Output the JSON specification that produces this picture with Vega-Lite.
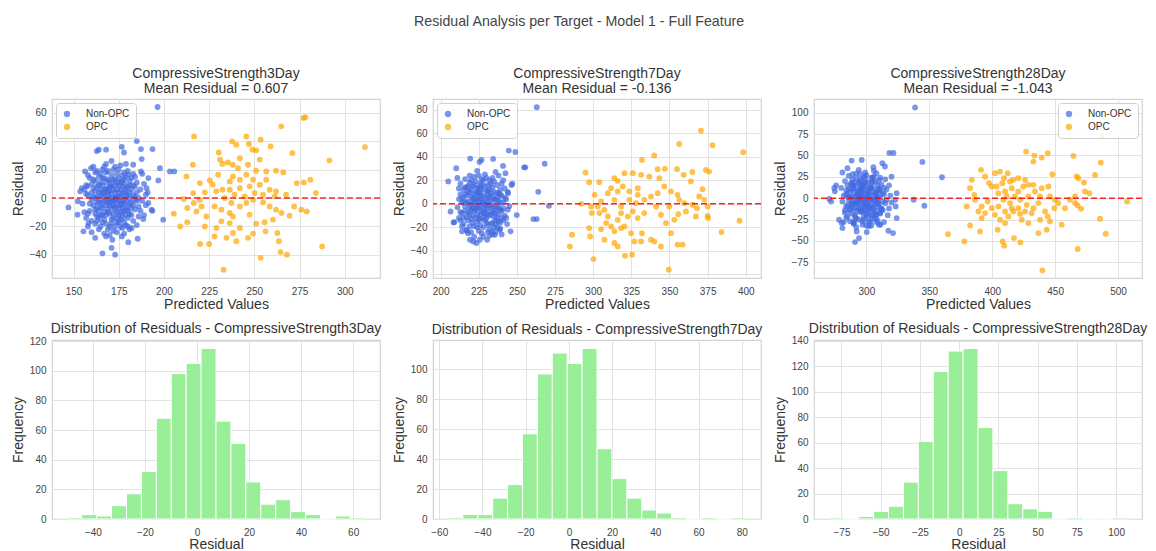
{
"$schema": "https://vega.github.io/schema/vega-lite/v6.json",
"padding": {"left": 10, "top": 14, "right": 10, "bottom": 0},
"title": {"text": "Residual Analysis per Target - Model 1 - Full Feature", "fontSize": 14.2, "color": "#444", "fontWeight": "normal", "anchor": "middle", "offset": 37.5},
"datasets": {
"n3": [
{"x":196.5,"y":64},{"x":185,"y":40},{"x":176.7,"y":36},{"x":168,"y":34},{"x":164,"y":34},{"x":162.9,"y":33},{"x":193.7,"y":34.4},{"x":187.7,"y":27.4},{"x":187.3,"y":34.4},{"x":177.9,"y":32},{"x":197.8,"y":21},{"x":203.3,"y":18.7},{"x":205.7,"y":18.7},{"x":196.9,"y":12.4},{"x":199.6,"y":-15.2},{"x":193.2,"y":-8.2},{"x":193.6,"y":-9},{"x":147.2,"y":-6.6},{"x":152.4,"y":-2.3},{"x":152.2,"y":-11.7},{"x":153.7,"y":4.7},{"x":155.5,"y":-23.4},{"x":158.3,"y":-17.6},{"x":162,"y":-28},{"x":166,"y":-39},{"x":173,"y":-39.8},{"x":171,"y":-35},{"x":171.5,"y":-29.3},{"x":180.3,"y":-31},{"x":185.5,"y":-28.6},{"x":182.2,"y":-21},{"x":176.7,"y":-27},{"x":168,"y":-27},{"x":188.6,"y":-14.8},{"x":191.4,"y":-3.5},{"x":190,"y":2.3},{"x":190.4,"y":7},{"x":191.4,"y":14},{"x":187.3,"y":18.7},{"x":183,"y":23.4},{"x":180.3,"y":16.4},{"x":159.7,"y":21},{"x":156.4,"y":18.7},{"x":154.6,"y":7},{"x":157.7,"y":8.2},
{"x":158,"y":2},{"x":161,"y":-5},{"x":163,"y":8},{"x":165,"y":-12},{"x":166,"y":3},{"x":167,"y":-2},{"x":168,"y":11},{"x":169,"y":-8},{"x":170,"y":5},{"x":171,"y":-15},{"x":172,"y":0},{"x":173,"y":9},{"x":174,"y":-4},{"x":175,"y":14},{"x":176,"y":-10},{"x":177,"y":3},{"x":178,"y":-1},{"x":179,"y":7},{"x":180,"y":-6},{"x":181,"y":12},
{"x":159,"y":-9},{"x":160,"y":10},{"x":162,"y":-18},{"x":164,"y":15},{"x":166,"y":-7},{"x":167,"y":6},{"x":169,"y":19},{"x":170,"y":-3},{"x":171,"y":8},{"x":172,"y":-11},{"x":173,"y":4},{"x":174,"y":17},{"x":175,"y":-7},{"x":176,"y":1},{"x":177,"y":-14},{"x":178,"y":10},{"x":179,"y":-19},{"x":180,"y":2},{"x":182,"y":-3},{"x":183,"y":9},
{"x":157,"y":-14},{"x":160,"y":-1},{"x":161,"y":13},{"x":163,"y":-3},{"x":164,"y":-9},{"x":165,"y":6},{"x":166,"y":20},{"x":168,"y":-5},{"x":169,"y":2},{"x":170,"y":-20},{"x":171,"y":16},{"x":172,"y":6},{"x":173,"y":-6},{"x":174,"y":-17},{"x":175,"y":4},{"x":176,"y":11},{"x":177,"y":-4},{"x":178,"y":-9},{"x":179,"y":1},{"x":181,"y":-11},
{"x":156,"y":6},{"x":158,"y":-20},{"x":159,"y":14},{"x":162,"y":0},{"x":163,"y":-13},{"x":164,"y":4},{"x":165,"y":-1},{"x":166,"y":-17},{"x":167,"y":14},{"x":168,"y":-12},{"x":169,"y":7},{"x":170,"y":12},{"x":171,"y":-7},{"x":172,"y":-2},{"x":173,"y":22},{"x":174,"y":1},{"x":175,"y":-12},{"x":176,"y":-20},{"x":177,"y":8},{"x":178,"y":18},
{"x":184,"y":-8},{"x":185,"y":4},{"x":186,"y":-13},{"x":187,"y":6},{"x":188,"y":-2},{"x":189,"y":10},{"x":184,"y":15},{"x":185,"y":-19},{"x":186,"y":0},{"x":183,"y":-16},{"x":182,"y":6},{"x":181,"y":-22},{"x":180,"y":19},{"x":182,"y":14},{"x":184,"y":-1},{"x":187,"y":-9},{"x":188,"y":17},{"x":190,"y":-5},{"x":189,"y":-12},{"x":191,"y":4},
{"x":155,"y":-4},{"x":156,"y":-10},{"x":157,"y":9},{"x":158,"y":16},{"x":160,"y":-24},{"x":161,"y":22},{"x":162,"y":-11},{"x":163,"y":19},{"x":164,"y":-22},{"x":165,"y":11},{"x":167,"y":-25},{"x":168,"y":24},{"x":170,"y":-11},{"x":171,"y":26},{"x":172,"y":-23},{"x":174,"y":-24},{"x":176,"y":23},{"x":178,"y":-25},{"x":179,"y":24},{"x":180,"y":-14},
{"x":161,"y":1},{"x":162,"y":5},{"x":163,"y":-7},{"x":164,"y":-3},{"x":165,"y":2},{"x":166,"y":-4},{"x":167,"y":1},{"x":168,"y":-1},{"x":169,"y":-3},{"x":170,"y":0},{"x":171,"y":3},{"x":172,"y":-5},{"x":173,"y":-1},{"x":174,"y":6},{"x":175,"y":-2},{"x":176,"y":-5},{"x":177,"y":12},{"x":178,"y":4},{"x":179,"y":-12},{"x":180,"y":8},
{"x":165,"y":-20},{"x":167,"y":-10},{"x":169,"y":13},{"x":171,"y":-18},{"x":173,"y":13},{"x":175,"y":9},{"x":177,"y":-21},{"x":179,"y":15},{"x":181,"y":0},{"x":183,"y":2},{"x":166,"y":9},{"x":168,"y":18},{"x":170,"y":-26},{"x":172,"y":20},{"x":174,"y":-14},{"x":176,"y":-15},{"x":178,"y":-17},{"x":180,"y":-20},{"x":182,"y":-7},{"x":184,"y":8},
{"x":163,"y":1},{"x":165,"y":-6},{"x":167,"y":4},{"x":169,"y":-10},{"x":171,"y":10},{"x":173,"y":-8},{"x":175,"y":1},{"x":177,"y":-7},{"x":179,"y":5},{"x":181,"y":4},{"x":162,"y":-8},{"x":164,"y":9},{"x":166,"y":-12},{"x":168,"y":6},{"x":170,"y":-5},{"x":172,"y":13},{"x":174,"y":-10},{"x":176,"y":6},{"x":178,"y":-4},{"x":180,"y":-9},
{"x":161,"y":7},{"x":163,"y":-16},{"x":165,"y":17},{"x":167,"y":-15},{"x":169,"y":4},{"x":171,"y":-2},{"x":173,"y":0},{"x":175,"y":-17},{"x":177,"y":16},{"x":179,"y":-8},{"x":160,"y":4},{"x":162,"y":12},{"x":164,"y":-14},{"x":166,"y":14},{"x":168,"y":-18},{"x":170,"y":8},{"x":172,"y":-14},{"x":174,"y":11},{"x":176,"y":-2},{"x":178,"y":13},
{"x":182,"y":-12},{"x":183,"y":-5},{"x":185,"y":11},{"x":186,"y":-6},{"x":184,"y":1},{"x":181,"y":9},{"x":183,"y":17},{"x":185,"y":-2},{"x":159,"y":-4},{"x":157,"y":3},{"x":158,"y":-11},{"x":160,"y":-16},{"x":162,"y":18},{"x":167,"y":22},{"x":169,"y":-22},{"x":173,"y":-20},{"x":175,"y":20},{"x":177,"y":-11},{"x":179,"y":-2},{"x":181,"y":-4}
],
"o3": [
{"x":216.7,"y":43.3},{"x":311.2,"y":35.8},{"x":277.2,"y":56.2},{"x":278.2,"y":56.8},{"x":264.9,"y":50.4},{"x":245.6,"y":43.3},{"x":253.5,"y":41},{"x":240,"y":37.5},{"x":271,"y":31.6},{"x":291.5,"y":26.5},{"x":230.3,"y":32},{"x":251,"y":33.5},{"x":237.7,"y":39.8},{"x":259,"y":36.3},{"x":247,"y":38},{"x":216,"y":23.4},{"x":212.5,"y":15.2},{"x":232.4,"y":24},{"x":235.3,"y":25},{"x":238,"y":23.4},{"x":241,"y":21},{"x":251,"y":19.2},{"x":256.6,"y":18.7},{"x":262,"y":19.2},{"x":266,"y":18},{"x":273.5,"y":10.5},{"x":277.4,"y":11},{"x":281,"y":12.9},{"x":284,"y":3.5},{"x":276,"y":-8.2},{"x":279,"y":-9.4},{"x":272,"y":-5.9},{"x":287.5,"y":-34},{"x":268,"y":-39.8},{"x":264.5,"y":-38},{"x":253.5,"y":-42},{"x":233,"y":-50.4},{"x":220,"y":-32.3},{"x":225,"y":-32.3},{"x":222.6,"y":-20},{"x":209,"y":-20},{"x":212.9,"y":-17},{"x":205.5,"y":-11},{"x":211,"y":-0.7},{"x":212.9,"y":-7},{"x":218,"y":-9.4},{"x":219.9,"y":-1.2},{"x":222.6,"y":4},{"x":225.4,"y":12.4},{"x":227,"y":9.4},{"x":229,"y":4.7},{"x":232.4,"y":5.9},{"x":236.4,"y":5.9},{"x":242,"y":7},{"x":247.4,"y":8.2},{"x":253,"y":9.4},{"x":258.5,"y":5.9},{"x":262,"y":4.7},{"x":228,"y":-5.9},{"x":231.8,"y":-8.2},{"x":236.4,"y":-10.5},{"x":238.2,"y":-12.9},{"x":242,"y":-5.9},{"x":245.6,"y":-3.5},{"x":249.3,"y":-1.2},{"x":254.8,"y":-3},{"x":258.5,"y":-5.9},{"x":262,"y":-8.2},{"x":265,"y":-10.5},{"x":269.5,"y":-12.4},{"x":260.3,"y":-15.2},{"x":255.7,"y":-17},{"x":251,"y":-18},{"x":247.4,"y":-11.7},{"x":242,"y":-21},{"x":238.2,"y":-24.6},{"x":234.6,"y":-28},{"x":228,"y":-27},{"x":236.4,"y":-17.6},{"x":229,"y":-21},{"x":231.8,"y":-16.4},{"x":263.6,"y":-30.4},{"x":256.2,"y":-23.4},{"x":246.5,"y":-28},{"x":249.3,"y":-25},{"x":240,"y":-30.4},{"x":262.7,"y":-24.6},{"x":237.3,"y":-3.5},{"x":233.6,"y":0},{"x":239,"y":2.3},{"x":244.7,"y":1.2},{"x":250.2,"y":3.5},{"x":254.8,"y":2.3},{"x":261.3,"y":1.2},{"x":267.6,"y":2.3},{"x":223.5,"y":-12.9},{"x":220.8,"y":-5.9},{"x":216.5,"y":-3.5},{"x":216.2,"y":3.5},{"x":219.9,"y":10.5},{"x":230,"y":16.4},{"x":238.2,"y":15.2},{"x":245.6,"y":16.4},{"x":242,"y":12.9},{"x":249.3,"y":12.9},{"x":256.6,"y":12.9},{"x":236.4,"y":11.7},{"x":246.5,"y":23.4},{"x":242,"y":28},{"x":253,"y":27},{"x":231,"y":27},{"x":249,"y":34}
],
"n7": [
{"x":263,"y":82},{"x":244.7,"y":45.2},{"x":249,"y":44},{"x":254.7,"y":31},{"x":255.5,"y":31},{"x":268.2,"y":34},{"x":264,"y":10.2},{"x":271,"y":-1.7},{"x":260.8,"y":-13},{"x":263,"y":-13},{"x":249.9,"y":-9.6},{"x":245.8,"y":-23.4},{"x":243.6,"y":-17.2},{"x":205,"y":19},{"x":206.5,"y":-6.5},{"x":208.5,"y":-15.8},{"x":210.2,"y":30.2},{"x":219.4,"y":38.4},{"x":234.4,"y":38.1},{"x":226.8,"y":37.3},{"x":225.5,"y":35.5},{"x":240.9,"y":32.2},{"x":217,"y":-22.9},{"x":219.2,"y":-30.5},{"x":221.4,"y":-32},{"x":223.5,"y":-33.3},{"x":225.7,"y":-30.5},{"x":230.5,"y":-30.5},{"x":233.8,"y":-23.4},{"x":235.5,"y":-26.3},{"x":238.8,"y":-22},{"x":214,"y":-23.4},{"x":246.4,"y":16},{"x":244.2,"y":9},{"x":242.5,"y":26},{"x":247,"y":17},{"x":209,"y":-15.5},{"x":212,"y":13},{"x":211,"y":22},
{"x":212,"y":4},{"x":214,"y":-8},{"x":215,"y":12},{"x":216,"y":-2},{"x":217,"y":7},{"x":218,"y":-14},{"x":219,"y":18},{"x":220,"y":-5},{"x":221,"y":2},{"x":222,"y":-19},{"x":223,"y":10},{"x":224,"y":-9},{"x":225,"y":24},{"x":226,"y":-1},{"x":227,"y":6},{"x":228,"y":-12},{"x":229,"y":15},{"x":230,"y":-4},{"x":231,"y":3},{"x":232,"y":-22},
{"x":233,"y":9},{"x":234,"y":-7},{"x":235,"y":19},{"x":236,"y":-2},{"x":237,"y":5},{"x":238,"y":-15},{"x":239,"y":12},{"x":240,"y":-6},{"x":241,"y":1},{"x":242,"y":-10},{"x":213,"y":17},{"x":214,"y":-19},{"x":216,"y":8},{"x":217,"y":-11},{"x":218,"y":2},{"x":219,"y":-3},{"x":220,"y":12},{"x":221,"y":-16},{"x":222,"y":23},{"x":223,"y":-1},
{"x":224,"y":4},{"x":225,"y":-13},{"x":226,"y":9},{"x":227,"y":-25},{"x":228,"y":20},{"x":229,"y":-8},{"x":230,"y":11},{"x":231,"y":-18},{"x":232,"y":6},{"x":233,"y":-3},{"x":234,"y":14},{"x":235,"y":-11},{"x":236,"y":27},{"x":237,"y":-20},{"x":238,"y":3},{"x":239,"y":-5},{"x":240,"y":17},{"x":241,"y":-14},{"x":243,"y":4},{"x":244,"y":-5},
{"x":211,"y":-3},{"x":212,"y":-12},{"x":213,"y":8},{"x":215,"y":-17},{"x":216,"y":21},{"x":218,"y":-7},{"x":219,"y":10},{"x":220,"y":-24},{"x":221,"y":15},{"x":222,"y":-6},{"x":223,"y":4},{"x":224,"y":-20},{"x":225,"y":14},{"x":226,"y":-9},{"x":227,"y":1},{"x":228,"y":-4},{"x":229,"y":25},{"x":230,"y":-16},{"x":231,"y":8},{"x":232,"y":-10},
{"x":233,"y":2},{"x":234,"y":-26},{"x":235,"y":10},{"x":236,"y":-8},{"x":237,"y":16},{"x":238,"y":-3},{"x":239,"y":-21},{"x":240,"y":7},{"x":242,"y":13},{"x":243,"y":-12},{"x":215,"y":3},{"x":217,"y":-22},{"x":218,"y":15},{"x":220,"y":6},{"x":221,"y":-10},{"x":222,"y":-28},{"x":224,"y":28},{"x":226,"y":17},{"x":228,"y":-20},{"x":230,"y":22},
{"x":232,"y":-27},{"x":234,"y":-16},{"x":236,"y":-14},{"x":238,"y":24},{"x":240,"y":-26},{"x":241,"y":20},{"x":244,"y":10},{"x":245,"y":-2},{"x":223,"y":-5},{"x":225,"y":2},{"x":227,"y":-6},{"x":226,"y":4},{"x":224,"y":-3},{"x":228,"y":7},{"x":229,"y":1},{"x":230,"y":-1},{"x":231,"y":-6},{"x":227,"y":12},{"x":225,"y":8},{"x":222,"y":1},
{"x":219,"y":-9},{"x":217,"y":1},{"x":214,"y":5},{"x":213,"y":-14},{"x":233,"y":-9},{"x":235,"y":-20},{"x":237,"y":-12},{"x":239,"y":1},{"x":219,"y":24},{"x":231,"y":16},
{"x":220,"y":-1},{"x":222,"y":8},{"x":224,"y":-15},{"x":226,"y":13},{"x":228,"y":2},{"x":230,"y":-12},{"x":232,"y":-1},{"x":234,"y":6},{"x":236,"y":3},{"x":238,"y":-9},{"x":221,"y":5},{"x":223,"y":-12},{"x":225,"y":-4},{"x":227,"y":16},{"x":229,"y":-14},{"x":231,"y":11},{"x":233,"y":-17},{"x":235,"y":4},{"x":237,"y":-4},{"x":239,"y":8},
{"x":216,"y":-6},{"x":218,"y":10},{"x":220,"y":-13},{"x":222,"y":16},{"x":224,"y":9},{"x":226,"y":-18},{"x":228,"y":-8},{"x":230,"y":5},{"x":232,"y":12},{"x":234,"y":-2},{"x":236,"y":-17},{"x":238,"y":9},{"x":240,"y":-12},{"x":217,"y":14},{"x":219,"y":-19},{"x":221,"y":-4},{"x":223,"y":19},{"x":225,"y":-23},{"x":227,"y":21},{"x":229,"y":-1},
{"x":231,"y":-24},{"x":233,"y":17},{"x":235,"y":-6},{"x":237,"y":9},{"x":215,"y":-12},{"x":214,"y":1},{"x":241,"y":-4},{"x":242,"y":5},{"x":218,"y":-25},{"x":220,"y":20},{"x":234,"y":22},{"x":232,"y":20},{"x":236,"y":-24},{"x":239,"y":-16},{"x":213,"y":-7},{"x":216,"y":14},{"x":228,"y":-28},{"x":226,"y":-13},{"x":224,"y":13},{"x":230,"y":-9}
],
"o7": [
{"x":370.6,"y":62.1},{"x":356.4,"y":50.8},{"x":378.2,"y":49.7},{"x":398.4,"y":43.8},{"x":340,"y":41},{"x":332,"y":37.3},{"x":355,"y":29.4},{"x":373.9,"y":28.8},{"x":376,"y":27.4},{"x":359.3,"y":24.6},{"x":347,"y":29.7},{"x":342.3,"y":29.4},{"x":343.4,"y":21.8},{"x":365,"y":27},{"x":295,"y":26.6},{"x":297.4,"y":18.4},{"x":304,"y":18.4},{"x":320.5,"y":26},{"x":326,"y":26},{"x":331.4,"y":24.6},{"x":313.9,"y":21.8},{"x":316.1,"y":19.5},{"x":336.8,"y":23},{"x":346.6,"y":14.7},{"x":351,"y":10.5},{"x":355.3,"y":7.6},{"x":364,"y":19},{"x":371.7,"y":12.4},{"x":369.5,"y":6.2},{"x":368,"y":-3.7},{"x":375,"y":-2.3},{"x":375,"y":-10.2},{"x":375.3,"y":-12.1},{"x":384.1,"y":-24},{"x":395.9,"y":-14.4},{"x":360.8,"y":-6.5},{"x":355.8,"y":-8.8},{"x":353.2,"y":-13.6},{"x":347.7,"y":-16.4},{"x":344.4,"y":-9.3},{"x":341.2,"y":-2.3},{"x":351,"y":-24.9},{"x":355.3,"y":-34.7},{"x":358.6,"y":-34.7},{"x":344.4,"y":-36.2},{"x":349.5,"y":-55.9},{"x":337.9,"y":-30.5},{"x":340.1,"y":-31.9},{"x":332,"y":-24.9},{"x":331.4,"y":-31.9},{"x":327,"y":-31.9},{"x":324.8,"y":-24.9},{"x":325.5,"y":-43.2},{"x":320.9,"y":-44},{"x":316.1,"y":-36.2},{"x":313.9,"y":-33.3},{"x":307.4,"y":-30.5},{"x":300.2,"y":-46.9},{"x":298,"y":-27.7},{"x":297.4,"y":-20.6},{"x":284.7,"y":-36.2},{"x":286.1,"y":-26.3},{"x":292.2,"y":0},{"x":299.1,"y":-7.9},{"x":298.7,"y":-2.3},{"x":300.9,"y":7.6},{"x":304.1,"y":-7.9},{"x":307.4,"y":-5.1},{"x":308.5,"y":-16.4},{"x":305.2,"y":-21.5},{"x":311.8,"y":-19.2},{"x":316.1,"y":-13.6},{"x":318.3,"y":-7.9},{"x":322.7,"y":-10.7},{"x":325.9,"y":-6.5},{"x":329.2,"y":-12.1},{"x":333.5,"y":-7.9},{"x":320.5,"y":-19.2},{"x":323.7,"y":3.4},{"x":328,"y":0.6},{"x":333.5,"y":3.4},{"x":337.9,"y":6.2},{"x":342.3,"y":9},{"x":313.9,"y":3.4},{"x":309.6,"y":9},{"x":311.8,"y":13.3},{"x":316.1,"y":10.5},{"x":319.4,"y":14.7},{"x":323.7,"y":10.5},{"x":329.2,"y":13.3},{"x":329.2,"y":7.6},{"x":318.3,"y":-2.3},{"x":305.2,"y":2},{"x":303,"y":-2.3},{"x":309.6,"y":-10.7},{"x":313.9,"y":-23.4},{"x":318.3,"y":-20.6},{"x":356.4,"y":3.4},{"x":359.7,"y":0.6},{"x":349.9,"y":-2.3},{"x":367.3,"y":-10.7},{"x":365.1,"y":-0.8},{"x":372.8,"y":3.4}
],
"n28": [
{"x":338.7,"y":106.2},{"x":344.5,"y":42.4},{"x":360.1,"y":24.5},{"x":337.6,"y":-1.9},{"x":346.1,"y":-8.9},{"x":318.3,"y":52.9},{"x":321.5,"y":52.9},{"x":312.7,"y":40.9},{"x":314.8,"y":37},{"x":305.6,"y":36.2},{"x":296.3,"y":44.7},{"x":288.3,"y":44},{"x":317.5,"y":-38.1},{"x":321.2,"y":-40.9},{"x":291,"y":-51.4},{"x":294.2,"y":-46.7},{"x":300.3,"y":-39.7},{"x":292.3,"y":-38.9},{"x":311.1,"y":-31},{"x":324.1,"y":-23.3},{"x":323.3,"y":-9.7},{"x":281,"y":-35},{"x":280.4,"y":-29.2},{"x":278.3,"y":-25.3},{"x":270.5,"y":-1},{"x":272,"y":-4},{"x":275,"y":8},{"x":274.5,"y":12},{"x":324.1,"y":5.8},{"x":323,"y":-2},{"x":320,"y":25},{"x":285,"y":35},{"x":281,"y":30},{"x":276,"y":15},{"x":290,"y":-30},
{"x":282,"y":3},{"x":284,"y":-10},{"x":285,"y":15},{"x":286,"y":-2},{"x":287,"y":8},{"x":288,"y":-18},{"x":289,"y":22},{"x":290,"y":-6},{"x":291,"y":2},{"x":292,"y":-24},{"x":293,"y":12},{"x":294,"y":-11},{"x":295,"y":28},{"x":296,"y":-1},{"x":297,"y":7},{"x":298,"y":-15},{"x":299,"y":18},{"x":300,"y":-5},{"x":301,"y":4},{"x":302,"y":-27},
{"x":303,"y":11},{"x":304,"y":-8},{"x":305,"y":24},{"x":306,"y":-2},{"x":307,"y":6},{"x":308,"y":-19},{"x":309,"y":15},{"x":310,"y":-7},{"x":311,"y":1},{"x":312,"y":-12},{"x":283,"y":20},{"x":284,"y":-23},{"x":286,"y":10},{"x":287,"y":-13},{"x":288,"y":2},{"x":289,"y":-4},{"x":290,"y":15},{"x":291,"y":-20},{"x":292,"y":29},{"x":293,"y":-1},
{"x":294,"y":5},{"x":295,"y":-16},{"x":296,"y":11},{"x":297,"y":-31},{"x":298,"y":25},{"x":299,"y":-10},{"x":300,"y":14},{"x":301,"y":-22},{"x":302,"y":7},{"x":303,"y":-3},{"x":304,"y":18},{"x":305,"y":-13},{"x":306,"y":32},{"x":307,"y":-24},{"x":308,"y":3},{"x":309,"y":-6},{"x":310,"y":21},{"x":311,"y":-17},{"x":313,"y":5},{"x":315,"y":-6},
{"x":281,"y":-4},{"x":283,"y":-14},{"x":284,"y":9},{"x":285,"y":-21},{"x":286,"y":26},{"x":288,"y":-8},{"x":289,"y":12},{"x":290,"y":-29},{"x":291,"y":18},{"x":292,"y":-7},{"x":293,"y":4},{"x":294,"y":-25},{"x":295,"y":17},{"x":296,"y":-11},{"x":297,"y":1},{"x":298,"y":-5},{"x":299,"y":30},{"x":300,"y":-19},{"x":301,"y":9},{"x":302,"y":-12},
{"x":303,"y":2},{"x":304,"y":-32},{"x":305,"y":12},{"x":306,"y":-10},{"x":307,"y":19},{"x":308,"y":-3},{"x":309,"y":-26},{"x":310,"y":8},{"x":312,"y":16},{"x":313,"y":-14},{"x":285,"y":3},{"x":287,"y":-27},{"x":288,"y":18},{"x":290,"y":7},{"x":291,"y":-12},{"x":292,"y":-34},{"x":294,"y":33},{"x":296,"y":20},{"x":298,"y":-25},{"x":300,"y":27},
{"x":302,"y":-33},{"x":304,"y":-20},{"x":306,"y":-17},{"x":308,"y":29},{"x":310,"y":-31},{"x":311,"y":24},{"x":314,"y":12},{"x":316,"y":-2},{"x":293,"y":-6},{"x":295,"y":2},{"x":297,"y":-7},{"x":296,"y":4},{"x":294,"y":-3},{"x":298,"y":8},{"x":299,"y":1},{"x":300,"y":-1},{"x":301,"y":-7},{"x":297,"y":14},{"x":295,"y":9},{"x":292,"y":1},
{"x":289,"y":-11},{"x":287,"y":1},{"x":284,"y":5},{"x":283,"y":-17},{"x":303,"y":-11},{"x":305,"y":-24},{"x":307,"y":-14},{"x":309,"y":1},{"x":289,"y":28},{"x":301,"y":19},{"x":316,"y":10},{"x":318,"y":-12},{"x":315,"y":22},{"x":317,"y":-20},{"x":319,"y":3},{"x":320,"y":-5},{"x":314,"y":-28},{"x":280,"y":12},{"x":282,"y":-28},{"x":318,"y":15},
{"x":292,"y":-3},{"x":294,"y":8},{"x":296,"y":-16},{"x":298,"y":13},{"x":300,"y":2},{"x":302,"y":-14},{"x":304,"y":-1},{"x":306,"y":7},{"x":308,"y":4},{"x":310,"y":-11},{"x":293,"y":6},{"x":295,"y":-13},{"x":297,"y":-4},{"x":299,"y":18},{"x":301,"y":-17},{"x":303,"y":13},{"x":305,"y":-20},{"x":307,"y":4},{"x":309,"y":-4},{"x":311,"y":9},
{"x":288,"y":-6},{"x":290,"y":11},{"x":292,"y":-15},{"x":294,"y":18},{"x":296,"y":10},{"x":298,"y":-21},{"x":300,"y":-9},{"x":302,"y":5},{"x":304,"y":12},{"x":306,"y":-2},{"x":308,"y":-20},{"x":310,"y":11},{"x":312,"y":-13},{"x":289,"y":16},{"x":291,"y":-22},{"x":293,"y":-5},{"x":295,"y":22},{"x":297,"y":-27},{"x":299,"y":24},{"x":301,"y":-1},
{"x":303,"y":-28},{"x":305,"y":19},{"x":307,"y":-7},{"x":309,"y":10},{"x":287,"y":-14},{"x":286,"y":1},{"x":313,"y":-4},{"x":314,"y":5},{"x":290,"y":-28},{"x":292,"y":23},{"x":306,"y":25},{"x":304,"y":24},{"x":308,"y":-28},{"x":311,"y":-18},{"x":285,"y":-8},{"x":288,"y":16},{"x":300,"y":-32},{"x":298,"y":-14},{"x":296,"y":15},{"x":302,"y":-10}
],
"o28": [
{"x":487,"y":72.8},{"x":426.9,"y":54.5},{"x":444.1,"y":52.5},{"x":433.5,"y":49.8},{"x":439.3,"y":47.5},{"x":464.5,"y":49.4},{"x":447.8,"y":28},{"x":486.2,"y":41.6},{"x":432.7,"y":42.8},{"x":481.7,"y":27.2},{"x":467.1,"y":25.3},{"x":468.4,"y":23.3},{"x":472.9,"y":18.3},{"x":477.2,"y":5.8},{"x":473.7,"y":7.8},{"x":470.6,"y":-12.5},{"x":467.9,"y":-8.6},{"x":485.6,"y":-24.1},{"x":490.2,"y":-41.6},{"x":507.1,"y":-3.9},{"x":467.9,"y":-59.5},{"x":439.8,"y":-84.4},{"x":409.6,"y":-55.6},{"x":408.3,"y":-50.6},{"x":417.3,"y":-46.7},{"x":422.4,"y":-51.8},{"x":377.9,"y":-50.6},{"x":382.4,"y":-31.9},{"x":364.9,"y":-42},{"x":390.3,"y":-38.9},{"x":404.3,"y":-37},{"x":394.3,"y":-17.5},{"x":391.6,"y":-23.3},{"x":383.7,"y":21.4},{"x":391.1,"y":33.1},{"x":394.3,"y":25.3},{"x":399.6,"y":13.6},{"x":402.2,"y":29.2},{"x":406.2,"y":31.1},{"x":412.3,"y":29.2},{"x":409.4,"y":23.3},{"x":416.8,"y":21.4},{"x":420.8,"y":23.3},{"x":424.7,"y":13.6},{"x":428.7,"y":15.6},{"x":434,"y":7.8},{"x":439.3,"y":11.7},{"x":444.6,"y":13.6},{"x":445.9,"y":1.9},{"x":449.9,"y":-1.9},{"x":449.4,"y":-11.7},{"x":445.9,"y":-27.2},{"x":444.1,"y":-21.4},{"x":438,"y":-25.3},{"x":443.3,"y":-37},{"x":436.7,"y":-40.9},{"x":455.2,"y":-31.1},{"x":431.4,"y":-17.5},{"x":428.7,"y":-29.2},{"x":423.4,"y":-25.3},{"x":422.1,"y":-18.3},{"x":416.8,"y":-15.6},{"x":412.8,"y":-21.4},{"x":410.2,"y":-29.2},{"x":406.2,"y":-25.3},{"x":402.2,"y":-19.5},{"x":399.6,"y":-11.7},{"x":396.4,"y":-3.9},{"x":391.6,"y":-9.7},{"x":389,"y":-15.6},{"x":386.3,"y":-1.9},{"x":404.9,"y":-9.7},{"x":408.8,"y":-1.9},{"x":414.1,"y":-5.8},{"x":418.1,"y":1.9},{"x":422.1,"y":-1.9},{"x":427.4,"y":-7.8},{"x":432.7,"y":-11.7},{"x":436.7,"y":-5.8},{"x":428.7,"y":1.9},{"x":404.9,"y":5.8},{"x":410.2,"y":7.8},{"x":415.5,"y":11.7},{"x":420.8,"y":7.8},{"x":411.5,"y":1.9},{"x":415.5,"y":-11.7},{"x":420.8,"y":-11.7},{"x":426.1,"y":-15.6},{"x":410.2,"y":-15.6},{"x":442,"y":-15.6},{"x":438,"y":1.9},{"x":452.5,"y":-5.8},{"x":457.8,"y":-11.7},{"x":382.4,"y":11.7},{"x":379.7,"y":-9.7},{"x":385.8,"y":3.9},{"x":397.5,"y":17.5},{"x":403.5,"y":13.6},{"x":408,"y":17.5},{"x":414.1,"y":19.5},{"x":426.1,"y":21.4},{"x":432.7,"y":15.6},{"x":465.8,"y":1.9},{"x":461.8,"y":-1.9},{"x":465.8,"y":-5.8}
],
"h3": [
{"b0":-50.0,"b1":-44.27,"n":1},{"b0":-44.27,"b1":-38.54,"n":3},{"b0":-38.54,"b1":-32.81,"n":2},{"b0":-32.81,"b1":-27.08,"n":9},{"b0":-27.08,"b1":-21.35,"n":17},{"b0":-21.35,"b1":-15.62,"n":32},{"b0":-15.62,"b1":-9.89,"n":68},{"b0":-9.89,"b1":-4.16,"n":98},{"b0":-4.16,"b1":1.57,"n":105},{"b0":1.57,"b1":7.30,"n":115},{"b0":7.30,"b1":13.03,"n":66},{"b0":13.03,"b1":18.76,"n":51},{"b0":18.76,"b1":24.49,"n":25},{"b0":24.49,"b1":30.22,"n":10},{"b0":30.22,"b1":35.95,"n":13},{"b0":35.95,"b1":41.68,"n":5},{"b0":41.68,"b1":47.41,"n":3},{"b0":47.41,"b1":53.14,"n":0},{"b0":53.14,"b1":58.87,"n":2},{"b0":58.87,"b1":64.6,"n":1}
],
"h7": [
{"b0":-56.0,"b1":-49.1,"n":1},{"b0":-49.1,"b1":-42.2,"n":3},{"b0":-42.2,"b1":-35.3,"n":3},{"b0":-35.3,"b1":-28.4,"n":14},{"b0":-28.4,"b1":-21.5,"n":23},{"b0":-21.5,"b1":-14.6,"n":57},{"b0":-14.6,"b1":-7.7,"n":97},{"b0":-7.7,"b1":-0.8,"n":111},{"b0":-0.8,"b1":6.1,"n":104},{"b0":6.1,"b1":13.0,"n":114},{"b0":13.0,"b1":19.9,"n":47},{"b0":19.9,"b1":26.8,"n":27},{"b0":26.8,"b1":33.7,"n":14},{"b0":33.7,"b1":40.6,"n":6},{"b0":40.6,"b1":47.5,"n":4},{"b0":47.5,"b1":54.4,"n":1},{"b0":54.4,"b1":61.3,"n":0},{"b0":61.3,"b1":68.2,"n":1},{"b0":68.2,"b1":75.1,"n":0},{"b0":75.1,"b1":82.0,"n":1}
],
"h28": [
{"b0":-83.0,"b1":-73.5,"n":1},{"b0":-73.5,"b1":-64.0,"n":0},{"b0":-64.0,"b1":-54.5,"n":2},{"b0":-54.5,"b1":-45.0,"n":6},{"b0":-45.0,"b1":-35.5,"n":10},{"b0":-35.5,"b1":-26.0,"n":29},{"b0":-26.0,"b1":-16.5,"n":61},{"b0":-16.5,"b1":-7.0,"n":116},{"b0":-7.0,"b1":2.5,"n":132},{"b0":2.5,"b1":12.0,"n":134},{"b0":12.0,"b1":21.5,"n":72},{"b0":21.5,"b1":31.0,"n":38},{"b0":31.0,"b1":40.5,"n":12},{"b0":40.5,"b1":50.0,"n":8},{"b0":50.0,"b1":59.5,"n":6},{"b0":59.5,"b1":69.0,"n":0},{"b0":69.0,"b1":78.5,"n":1},{"b0":78.5,"b1":88.0,"n":0},{"b0":88.0,"b1":97.5,"n":0},{"b0":97.5,"b1":107.0,"n":1}
]
},
"columns": 3,
"spacing": {"row": 62, "column": 53},
"bounds": "flush",
"resolve": {"scale": {"color": "independent"}, "legend": {"color": "independent"}},
"concat": [
{
"width": 328, "height": 179,
"title": {"text": ["CompressiveStrength3Day", "Mean Residual = 0.607"], "lineHeight": 15, "offset": 3, "frame": "group"},
"encoding": {
 "x": {"field": "x", "type": "quantitative", "scale": {"domain": [138.1, 319.5], "nice": false, "zero": false}, "axis": {"values": [150,175,200,225,250,275,300], "title": "Predicted Values", "labelOverlap": false}},
 "y": {"field": "y", "type": "quantitative", "scale": {"domain": [-56.2, 69.6], "nice": false, "zero": false}, "axis": {"values": [-40,-20,0,20,40,60], "title": "Residual", "labelOverlap": false}}
},
"layer": [
{"data": {"name": "n3"}, "mark": {"type": "circle", "size": 34, "opacity": 0.7},
 "encoding": {"color": {"datum": "Non-OPC", "type": "nominal", "scale": {"domain": ["Non-OPC", "OPC"], "range": ["#4169E1", "#FFA500"]}, "legend": {"orient": "top-left"}}}},
{"data": {"name": "o3"}, "mark": {"type": "circle", "size": 34, "opacity": 0.7},
 "encoding": {"color": {"datum": "OPC", "type": "nominal"}}},
{"data": {"values": [{"y": 0}]}, "mark": {"type": "rule", "color": "red", "strokeDash": [6, 3], "strokeWidth": 1.5, "opacity": 0.85}, "encoding": {"x": null}}
]
},
{
"width": 328, "height": 179,
"title": {"text": ["CompressiveStrength7Day", "Mean Residual = -0.136"], "lineHeight": 15, "offset": 3, "frame": "group"},
"encoding": {
 "x": {"field": "x", "type": "quantitative", "scale": {"domain": [195, 410], "nice": false, "zero": false}, "axis": {"values": [200,225,250,275,300,325,350,375,400], "title": "Predicted Values", "labelOverlap": false}},
 "y": {"field": "y", "type": "quantitative", "scale": {"domain": [-63, 89], "nice": false, "zero": false}, "axis": {"values": [-60,-40,-20,0,20,40,60,80], "title": "Residual", "labelOverlap": false}}
},
"layer": [
{"data": {"name": "n7"}, "mark": {"type": "circle", "size": 34, "opacity": 0.7},
 "encoding": {"color": {"datum": "Non-OPC", "type": "nominal", "scale": {"domain": ["Non-OPC", "OPC"], "range": ["#4169E1", "#FFA500"]}, "legend": {"orient": "top-left"}}}},
{"data": {"name": "o7"}, "mark": {"type": "circle", "size": 34, "opacity": 0.7},
 "encoding": {"color": {"datum": "OPC", "type": "nominal"}}},
{"data": {"values": [{"y": 0}]}, "mark": {"type": "rule", "color": "red", "strokeDash": [6, 3], "strokeWidth": 1.5, "opacity": 0.85}, "encoding": {"x": null}}
]
},
{
"width": 328, "height": 179,
"title": {"text": ["CompressiveStrength28Day", "Mean Residual = -1.043"], "lineHeight": 15, "offset": 3, "frame": "group"},
"encoding": {
 "x": {"field": "x", "type": "quantitative", "scale": {"domain": [258.4, 519], "nice": false, "zero": false}, "axis": {"values": [300,350,400,450,500], "title": "Predicted Values", "labelOverlap": false}},
 "y": {"field": "y", "type": "quantitative", "scale": {"domain": [-93.4, 116], "nice": false, "zero": false}, "axis": {"values": [-75,-50,-25,0,25,50,75,100], "title": "Residual", "labelOverlap": false}}
},
"layer": [
{"data": {"name": "n28"}, "mark": {"type": "circle", "size": 34, "opacity": 0.7},
 "encoding": {"color": {"datum": "Non-OPC", "type": "nominal", "scale": {"domain": ["Non-OPC", "OPC"], "range": ["#4169E1", "#FFA500"]}, "legend": {"orient": "top-right"}}}},
{"data": {"name": "o28"}, "mark": {"type": "circle", "size": 34, "opacity": 0.7},
 "encoding": {"color": {"datum": "OPC", "type": "nominal"}}},
{"data": {"values": [{"y": 0}]}, "mark": {"type": "rule", "color": "red", "strokeDash": [6, 3], "strokeWidth": 1.5, "opacity": 0.85}, "encoding": {"x": null}}
]
},
{
"width": 328, "height": 179,
"title": {"text": "Distribution of Residuals - CompressiveStrength3Day", "offset": 0, "frame": "group"},
"data": {"name": "h3"},
"mark": {"type": "bar", "color": "#90EE90", "opacity": 0.92, "stroke": "white", "strokeWidth": 1},
"encoding": {"x": {"field": "b0", "type": "quantitative", "scale": {"domain": [-55.7, 70.3], "nice": false, "zero": false}, "axis": {"values": [-40,-20,0,20,40,60], "title": "Residual", "titlePadding": 0}},
 "x2": {"field": "b1"},
 "y": {"field": "n", "type": "quantitative", "scale": {"domain": [0, 120.75], "nice": false}, "axis": {"values": [0,20,40,60,80,100,120], "title": "Frequency"}},
 "y2": {"datum": 0}}
},
{
"width": 328, "height": 179,
"title": {"text": "Distribution of Residuals - CompressiveStrength7Day", "offset": 3, "frame": "group"},
"data": {"name": "h7"},
"mark": {"type": "bar", "color": "#90EE90", "opacity": 0.92, "stroke": "white", "strokeWidth": 1},
"encoding": {"x": {"field": "b0", "type": "quantitative", "scale": {"domain": [-62.9, 88.9], "nice": false, "zero": false}, "axis": {"values": [-60,-40,-20,0,20,40,60,80], "title": "Residual", "titlePadding": 0}},
 "x2": {"field": "b1"},
 "y": {"field": "n", "type": "quantitative", "scale": {"domain": [0, 119.7], "nice": false}, "axis": {"values": [0,20,40,60,80,100], "title": "Frequency"}},
 "y2": {"datum": 0}}
},
{
"width": 328, "height": 179,
"title": {"text": "Distribution of Residuals - CompressiveStrength28Day", "offset": 0, "frame": "group"},
"data": {"name": "h28"},
"mark": {"type": "bar", "color": "#90EE90", "opacity": 0.92, "stroke": "white", "strokeWidth": 1},
"encoding": {"x": {"field": "b0", "type": "quantitative", "scale": {"domain": [-92.5, 116.5], "nice": false, "zero": false}, "axis": {"values": [-75,-50,-25,0,25,50,75,100], "title": "Residual", "titlePadding": 0}},
 "x2": {"field": "b1"},
 "y": {"field": "n", "type": "quantitative", "scale": {"domain": [0, 140.7], "nice": false}, "axis": {"values": [0,20,40,60,80,100,120,140], "title": "Frequency"}},
 "y2": {"datum": 0}}
}
],
"config": {
 "font": "Liberation Sans",
 "view": {"stroke": "#d4d4d4", "strokeWidth": 1.2},
 "axis": {"grid": true, "gridColor": "#e2e2e2", "gridWidth": 1, "domain": false, "ticks": false, "labelOverlap": false, "labelFontSize": 10, "labelColor": "#444", "labelPadding": 6, "titleFontSize": 14, "titleFontWeight": "normal", "titleColor": "#333", "titlePadding": 4},
 "axisX": {"labelPadding": 8, "titlePadding": 1},
 "title": {"fontSize": 14, "fontWeight": "normal", "color": "#333", "anchor": "middle"},
 "legend": {"title": null, "labelFontSize": 10, "labelColor": "#333", "symbolType": "circle", "symbolSize": 40, "symbolOpacity": 0.7, "symbolStrokeWidth": 0, "strokeColor": "#d0d0d0", "fillColor": "rgba(255,255,255,0.85)", "padding": 6, "cornerRadius": 3, "offset": 4, "rowPadding": 3, "labelOffset": 14}
}
}
